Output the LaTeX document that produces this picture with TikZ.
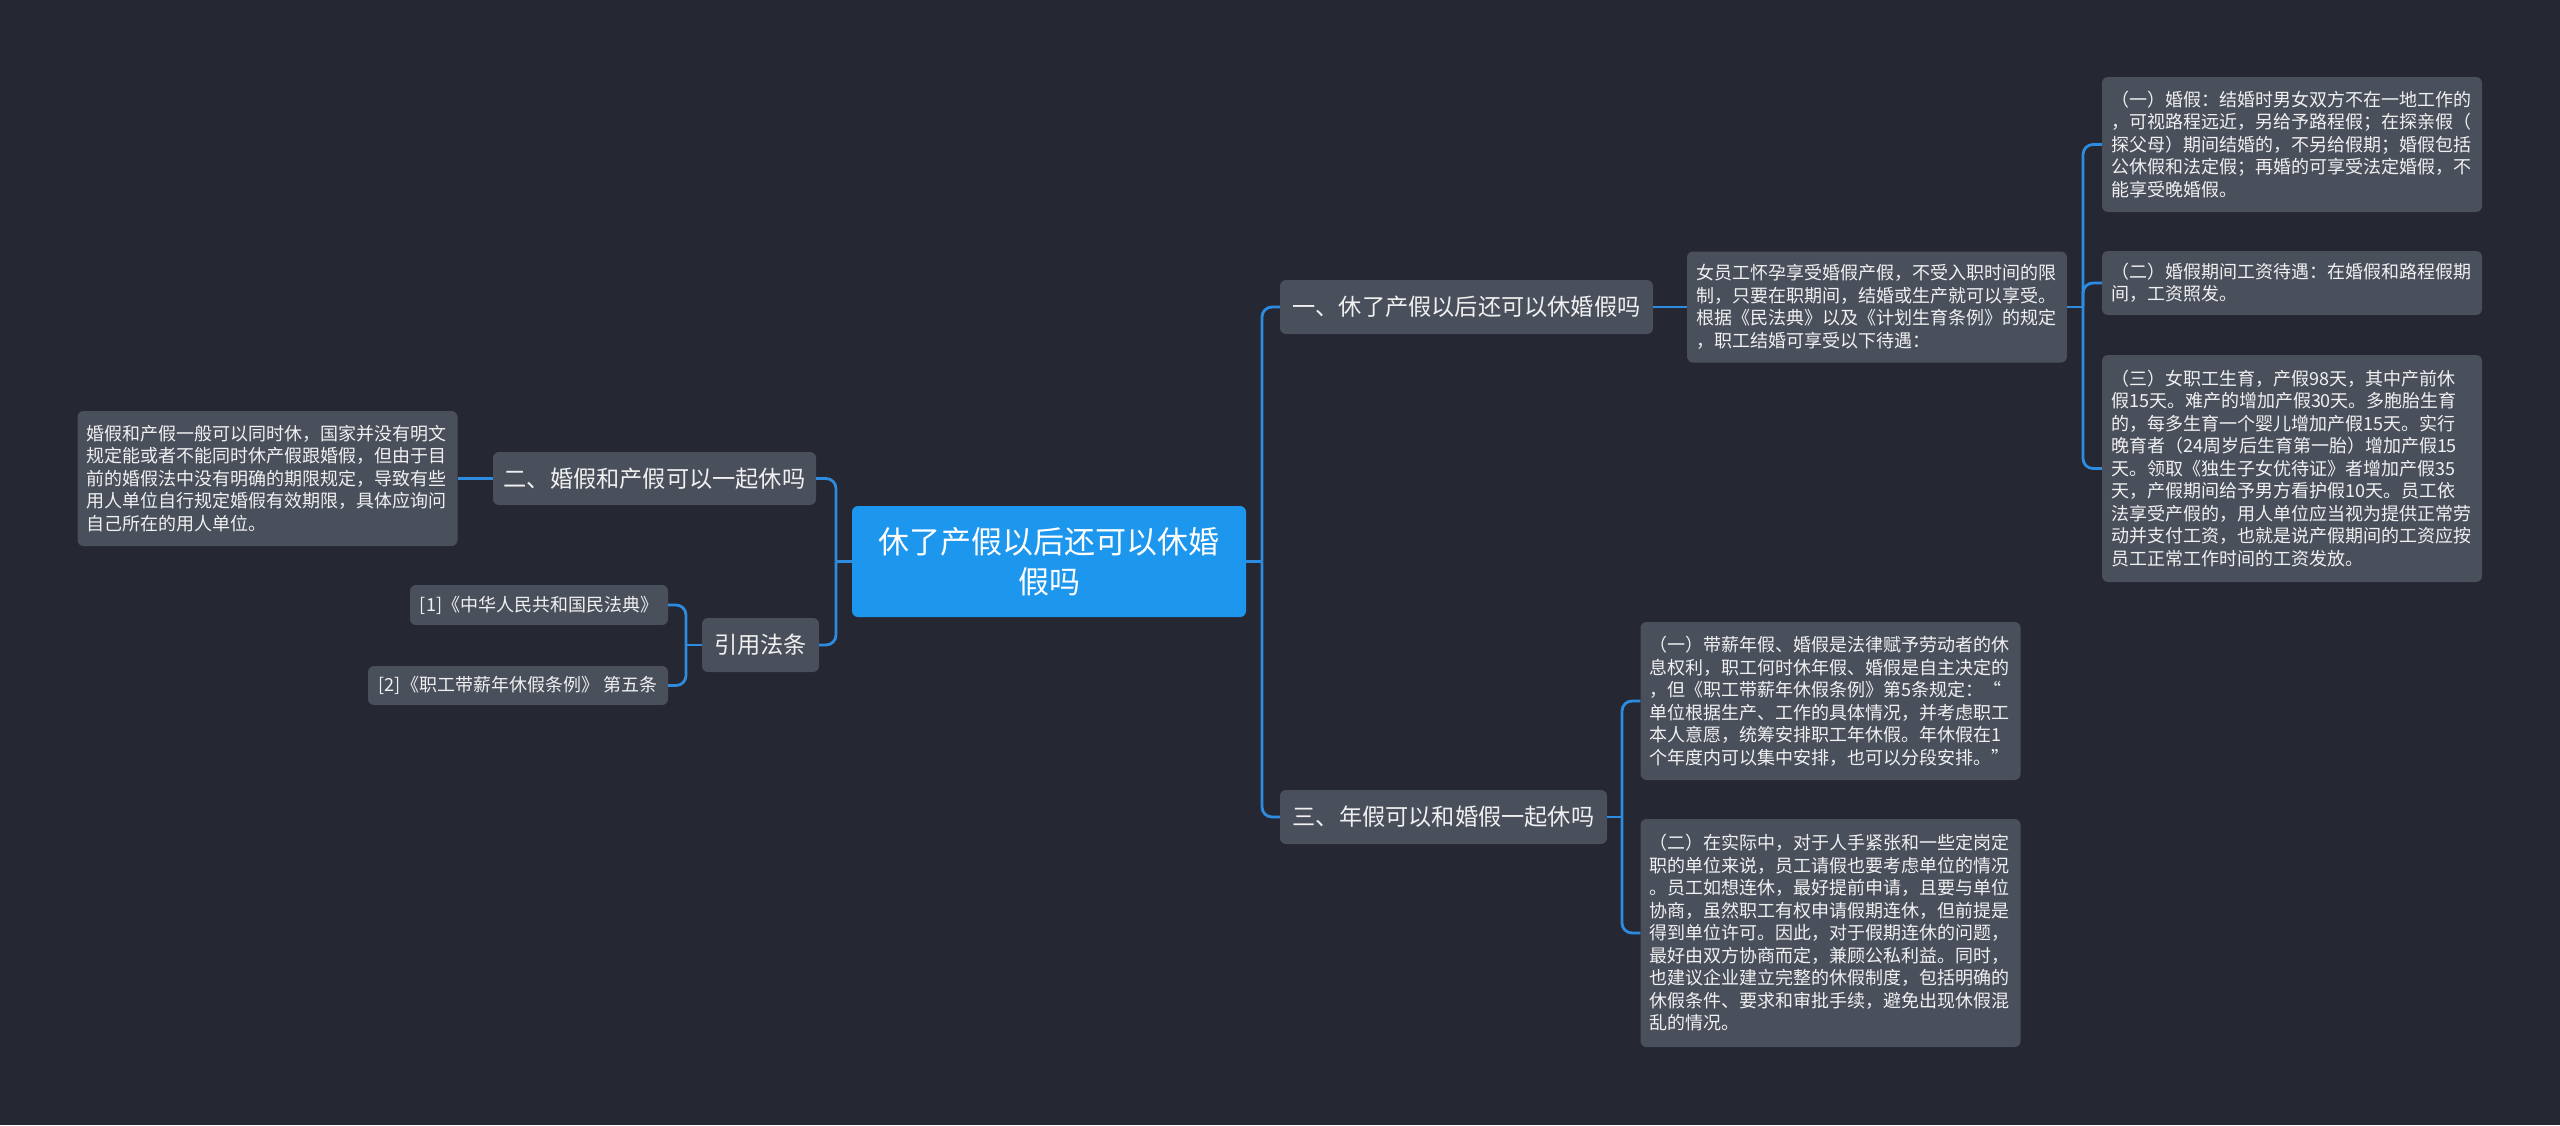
\documentclass[tikz,border=0pt]{standalone}
\usepackage{fontspec}
\newfontfamily\cjk{Noto Sans CJK SC}
\definecolor{bgc}{HTML}{252833}
\definecolor{nodeg}{HTML}{4A4F5C}
\definecolor{cblue}{HTML}{1D96EE}
\definecolor{lblue}{HTML}{2D8CE0}
\definecolor{txt}{HTML}{F0F0F0}
\begin{document}
\begin{tikzpicture}[x=1pt,y=-1pt,
  box/.style={fill=nodeg, rounded corners=6pt, text=txt, inner xsep=0pt, inner ysep=0pt},
  detail/.style={box, inner xsep=9pt, text width=362pt, align=left, font=\cjk\fontsize{18}{22.5}\selectfont},
  branch/.style={box, align=center, minimum height=54pt, font=\cjk\fontsize{23.2}{28}\selectfont},
  refbox/.style={box, align=center, font=\cjk\fontsize{18}{22.5}\selectfont},
  root/.style={box, fill=cblue, text=white, align=center, font=\cjk\fontsize{31}{40}\selectfont},
  conn/.style={draw=lblue, line width=2.8pt, rounded corners=10pt}
]
\fill[bgc] (0,0) rectangle (2560,1125);
\useasboundingbox (0,0) rectangle (2560,1125);

% root
\node[root, minimum width=394pt, minimum height=111pt] (c) at (1049,561.5) {休了产假以后还可以休婚\\假吗};

% branch 1
\node[branch, minimum width=373pt] (b1) at (1466.5,307) {一、休了产假以后还可以休婚假吗};
\node[detail, minimum height=111pt] (d1) at (1877,307) {女员工怀孕享受婚假产假，不受入职时间的限\\制，只要在职期间，结婚或生产就可以享受。\\根据《民法典》以及《计划生育条例》的规定\\，职工结婚可享受以下待遇：};
\node[detail, minimum height=135pt] (d11) at (2292,144.5) {（一）婚假：结婚时男女双方不在一地工作的\\，可视路程远近，另给予路程假；在探亲假（\\探父母）期间结婚的，不另给假期；婚假包括\\公休假和法定假；再婚的可享受法定婚假，不\\能享受晚婚假。};
\node[detail, minimum height=64pt] (d12) at (2292,283) {（二）婚假期间工资待遇：在婚假和路程假期\\间，工资照发。};
\node[detail, minimum height=227pt] (d13) at (2292,468.5) {（三）女职工生育，产假98天，其中产前休\\假15天。难产的增加产假30天。多胞胎生育\\的，每多生育一个婴儿增加产假15天。实行\\晚育者（24周岁后生育第一胎）增加产假15\\天。领取《独生子女优待证》者增加产假35\\天，产假期间给予男方看护假10天。员工依\\法享受产假的，用人单位应当视为提供正常劳\\动并支付工资，也就是说产假期间的工资应按\\员工正常工作时间的工资发放。};

% branch 3
\node[branch, minimum width=327pt] (b3) at (1443.5,817) {三、年假可以和婚假一起休吗};
\node[detail, minimum height=158pt] (d31) at (1830.5,701) {（一）带薪年假、婚假是法律赋予劳动者的休\\息权利，职工何时休年假、婚假是自主决定的\\，但《职工带薪年休假条例》第5条规定：“\\单位根据生产、工作的具体情况，并考虑职工\\本人意愿，统筹安排职工年休假。年休假在1\\个年度内可以集中安排，也可以分段安排。”};
\node[detail, minimum height=228pt] (d32) at (1830.5,933) {（二）在实际中，对于人手紧张和一些定岗定\\职的单位来说，员工请假也要考虑单位的情况\\。员工如想连休，最好提前申请，且要与单位\\协商，虽然职工有权申请假期连休，但前提是\\得到单位许可。因此，对于假期连休的问题，\\最好由双方协商而定，兼顾公私利益。同时，\\也建议企业建立完整的休假制度，包括明确的\\休假条件、要求和审批手续，避免出现休假混\\乱的情况。};

% branch 2
\node[branch, minimum width=323pt, minimum height=53pt] (b2) at (654.5,478.5) {二、婚假和产假可以一起休吗};
\node[detail, minimum height=135pt] (d2) at (267.5,478.5) {婚假和产假一般可以同时休，国家并没有明文\\规定能或者不能同时休产假跟婚假，但由于目\\前的婚假法中没有明确的期限规定，导致有些\\用人单位自行规定婚假有效期限，具体应询问\\自己所在的用人单位。};

% refs
\node[branch, minimum width=117pt] (b4) at (760.5,645) {引用法条};
\node[refbox, minimum width=258pt, minimum height=40pt] (r1) at (539,605) {[1]《中华人民共和国民法典》};
\node[refbox, minimum width=300pt, minimum height=39pt] (r2) at (518,685.5) {[2]《职工带薪年休假条例》 第五条};

% junctions
\coordinate (jc1) at (1262,561.5);
\coordinate (jc2) at (836,561.5);
\coordinate (j3) at (2083,307);
\coordinate (j4) at (1622,817);
\coordinate (j5) at (686,645);

% connectors
\draw[conn] (c.east) -- (jc1);
\draw[conn] (jc1) |- (b1.west);
\draw[conn] (jc1) |- (b3.west);
\draw[conn] (c.west) -- (jc2);
\draw[conn] (jc2) |- (b2.east);
\draw[conn] (jc2) |- (b4.east);
\draw[conn] (b1.east) -- (d1.west);
\draw[conn] (d1.east) -- (j3);
\draw[conn] (j3) |- (d11.west);
\draw[conn] (j3) |- (d12.west);
\draw[conn] (j3) |- (d13.west);
\draw[conn] (b3.east) -- (j4);
\draw[conn] (j4) |- (d31.west);
\draw[conn] (j4) |- (d32.west);
\draw[conn] (b2.west) -- (d2.east);
\draw[conn] (b4.west) -- (j5);
\draw[conn] (j5) |- (r1.east);
\draw[conn] (j5) |- (r2.east);
\end{tikzpicture}
\end{document}
